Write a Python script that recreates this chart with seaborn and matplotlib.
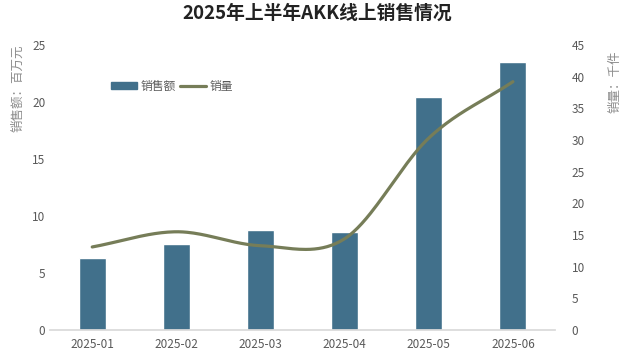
import numpy as np
import pandas as pd
import matplotlib
matplotlib.use("Agg")
import matplotlib.pyplot as plt
import seaborn as sns
from matplotlib.lines import Line2D
from matplotlib.patches import Patch

months = ["2025-01", "2025-02", "2025-03", "2025-04", "2025-05", "2025-06"]
sales_amount = [6.3, 7.5, 8.8, 8.6, 20.4, 23.5]      # 百万元
sales_volume = [13.1, 15.5, 13.3, 14.4, 30.3, 39.2]  # 千件

sns.set_theme(style="white")
plt.rcParams['font.family'] = ['Noto Sans CJK SC', 'DejaVu Sans']

BAR = "#41708b"
LINE = "#767d58"
GREY = "#595959"

df = pd.DataFrame({"month": months, "amount": sales_amount, "volume": sales_volume})

fig = plt.figure(figsize=(6.35, 3.54), dpi=100)
ax = fig.add_axes([0.079, 0.068, 0.795, 0.805])

sns.barplot(data=df, x="month", y="amount", color=BAR, width=0.32,
            saturation=1, ax=ax)
ax.set_ylim(0, 25)
ax.set_yticks(range(0, 26, 5))
ax.set_xlim(-0.5, 5.5)
ax.set_xlabel("")
ax.set_ylabel("")
for s in ["top", "right", "left"]:
    ax.spines[s].set_visible(False)
ax.spines["bottom"].set_color("#d9d9d9")
ax.tick_params(axis="both", length=0, colors=GREY, labelsize=8.5)
ax.tick_params(axis="x", pad=6)


def smooth(xs, ys, n=40):
    """Catmull-Rom curve through the given points."""
    xs = np.asarray(xs, float)
    ys = np.asarray(ys, float)
    px = np.concatenate([[2 * xs[0] - xs[1]], xs, [2 * xs[-1] - xs[-2]]])
    py = np.concatenate([[2 * ys[0] - ys[1]], ys, [2 * ys[-1] - ys[-2]]])
    out_x, out_y = [], []
    t = np.linspace(0, 1, n)
    for i in range(1, len(px) - 2):
        for p, out in ((px, out_x), (py, out_y)):
            p0, p1, p2, p3 = p[i - 1], p[i], p[i + 1], p[i + 2]
            out.extend(0.5 * ((2 * p1) + (-p0 + p2) * t
                              + (2 * p0 - 5 * p1 + 4 * p2 - p3) * t ** 2
                              + (-p0 + 3 * p1 - 3 * p2 + p3) * t ** 3))
    return np.array(out_x), np.array(out_y)


ax2 = ax.twinx()
cx, cy = smooth(np.arange(len(months)), sales_volume)
sns.lineplot(x=cx, y=cy, color=LINE, linewidth=2.3, sort=False, ax=ax2)
ax2.set_ylim(0, 45)
ax2.set_yticks(range(0, 46, 5))
ax2.set_ylabel("")
for s in ["top", "right", "left", "bottom"]:
    ax2.spines[s].set_visible(False)
ax2.tick_params(axis="y", length=0, colors=GREY, labelsize=8.5, pad=12)

fig.text(0.028, 0.75, "销售额：百万元", rotation=90, ha="center", va="center",
         color="#8c8c8c", fontsize=9)
fig.text(0.968, 0.77, "销量：千件", rotation=90, ha="center", va="center",
         color="#8c8c8c", fontsize=9)

fig.suptitle("2025年上半年AKK线上销售情况", y=0.99, fontsize=13.5,
             fontweight="bold", color="#222222")

handles = [Patch(facecolor=BAR, edgecolor=BAR),
           Line2D([0], [0], color=LINE, linewidth=2.3)]
ax.legend(handles, ["销售额", "销量"], loc="center left",
          bbox_to_anchor=(0.1, 0.855), ncol=2, frameon=False, fontsize=8.5,
          handlelength=2.2, handleheight=0.6, columnspacing=0.3,
          handletextpad=0.3, labelcolor=GREY)

fig.savefig("out.png", dpi=100)
